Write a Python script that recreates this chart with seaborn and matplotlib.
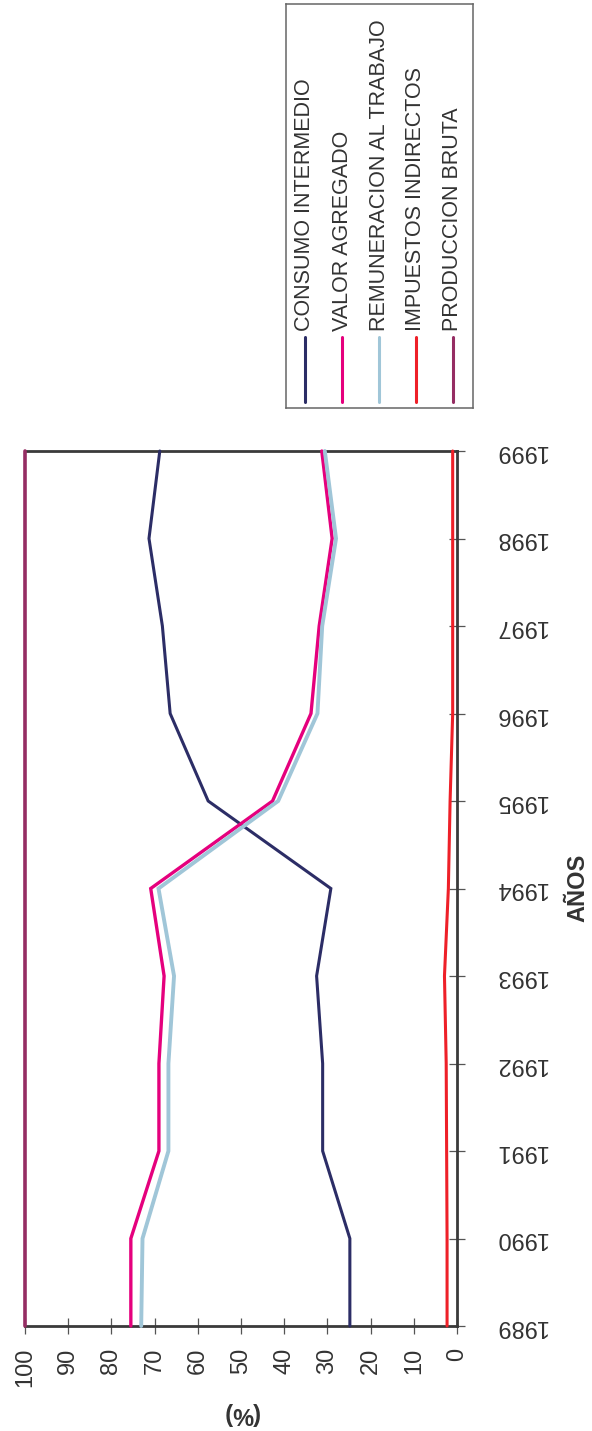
import numpy as np
import pandas as pd
import matplotlib
matplotlib.use("Agg")
import matplotlib.pyplot as plt
import seaborn as sns

# ---- data -------------------------------------------------------------
anios = [1989, 1990, 1991, 1992, 1993, 1994, 1995, 1996, 1997, 1998, 1999]
consumo_intermedio = [24.8, 24.8, 31.1, 31.1, 32.5, 29.2, 57.6, 66.4, 68.2, 71.3, 68.8]
valor_agregado = [75.5, 75.5, 69.0, 69.0, 67.8, 70.9, 42.7, 33.8, 31.9, 28.9, 31.3]
remuneracion = [73.1, 72.8, 66.8, 66.8, 65.5, 69.1, 41.4, 32.3, 31.2, 28.0, 30.6]
impuestos = [2.3, 2.3, 2.4, 2.5, 2.9, 2.0, 1.6, 1.0, 1.0, 1.0, 1.0]
produccion = [100, 100, 100, 100, 100, 100, 100, 100, 100, 100, 100]

series = ["CONSUMO INTERMEDIO", "VALOR AGREGADO", "REMUNERACION AL TRABAJO",
          "IMPUESTOS INDIRECTOS", "PRODUCCION BRUTA"]
valores = [consumo_intermedio, valor_agregado, remuneracion, impuestos, produccion]
colores = ["#2c2d66", "#e5007d", "#a0c6d8", "#ee2028", "#952d63"]
anchos = [2.2, 2.4, 2.8, 2.2, 2.6]
ticks_pct = [100, 90, 80, 70, 60, 50, 40, 30, 20, 10, 0]

df = pd.DataFrame({
    "anio": np.tile(anios, len(series)),
    "valor": np.concatenate(valores),
    "serie": np.repeat(series, len(anios)),
})
paleta = dict(zip(series, colores))

# ---- style ------------------------------------------------------------
sns.set_style("white")
plt.rcParams["font.family"] = ["Liberation Sans", "DejaVu Sans"]

W, H = 592, 1431
fig = plt.figure(figsize=(W / 100, H / 100), dpi=100)

# plot area (the chart is laid out on its side: years run upward)
x0, x1, y_top, y_bot = 25, 457, 451, 1326
ax = fig.add_axes([x0 / W, 1 - y_bot / H, (x1 - x0) / W, (y_bot - y_top) / H])

sns.lineplot(data=df, x="valor", y="anio", hue="serie", hue_order=series,
             palette=paleta, orient="y", sort=False, estimator=None,
             legend=False, ax=ax)
for ln, lw in zip(ax.lines, anchos):
    ln.set_linewidth(lw)
    ln.set_clip_on(False)
    ln.set_zorder(3)
    ln.set_solid_joinstyle("miter")

ax.set_xlim(100, 0)
ax.set_ylim(1989, 1999)
ax.set_xticks(ticks_pct)
ax.set_xticklabels([str(t) for t in ticks_pct])
ax.set_yticks(anios)
ax.set_yticklabels([str(a) for a in anios])
ax.yaxis.tick_right()
ax.set_xlabel("")
ax.set_ylabel("")

axis_col = "#3a3a3a"
for side in ["bottom", "right", "top"]:
    ax.spines[side].set_color(axis_col)
    ax.spines[side].set_linewidth(2.0)
ax.spines["left"].set_visible(False)

ax.tick_params(axis="x", direction="inout", length=11, width=0.9, color="#555555",
               labelsize=17, labelcolor="#333333", pad=10, labelrotation=90,
               bottom=True, top=False)
ax.tick_params(axis="y", direction="inout", length=12, width=0.9, color="#555555",
               labelsize=17, labelcolor="#333333", pad=21, labelrotation=180,
               right=True, left=False)
plt.setp(ax.get_yticklabels(), va="center")

# axis titles
fig.text(578 / W, 1 - 888 / H, "AÑOS", rotation=90, ha="center", va="center",
         fontsize=17, fontweight="bold", color="#333333")
fig.text(241 / W, 1 - 1413 / H, "(%)", rotation=180, ha="center", va="center",
         fontsize=17, fontweight="bold", color="#333333")

# legend box with upright entries
lx0, lx1, ly0, ly1 = 286, 473, 4, 408
lax = fig.add_axes([lx0 / W, 1 - ly1 / H, (lx1 - lx0) / W, (ly1 - ly0) / H])
lax.set_xlim(lx0, lx1)
lax.set_ylim(ly1, ly0)
lax.set_xticks([])
lax.set_yticks([])
for s in lax.spines.values():
    s.set_color("#666666")
    s.set_linewidth(1.1)
pos_x = [305, 342.5, 379.5, 416, 453]
for px, nombre, col in zip(pos_x, series, colores):
    lax.plot([px, px], [337, 402], color=col, lw=2.2, solid_capstyle="round")
    lax.text(px, 331, nombre, rotation=90, ha="center", va="bottom",
             fontsize=15.5, color="#333333")

fig.savefig("out.png", dpi=100)
